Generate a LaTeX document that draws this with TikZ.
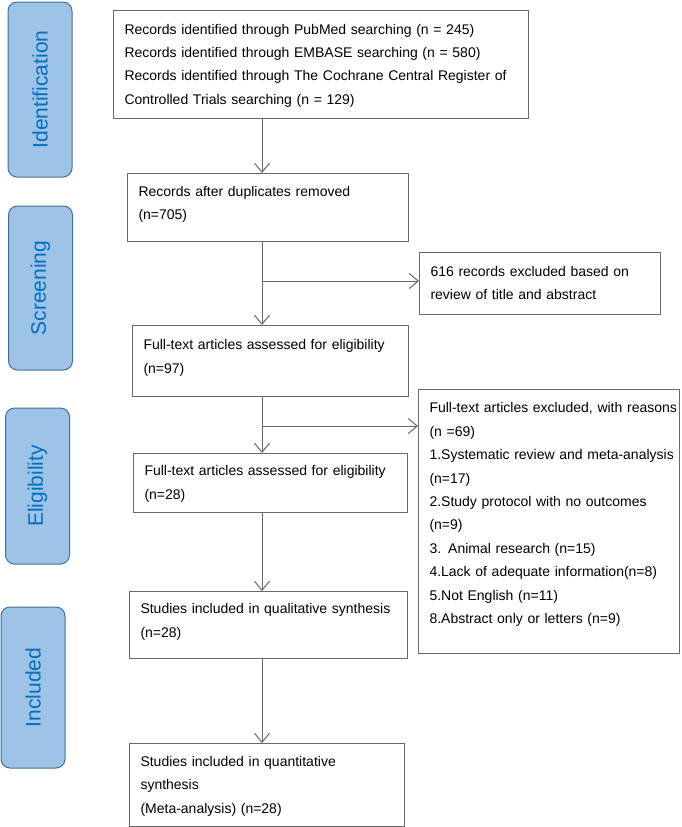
\documentclass[tikz,border=0pt]{standalone}
\usepackage{fontspec}
\setmainfont{Liberation Sans}
\usetikzlibrary{arrows.meta}
\definecolor{phasefill}{RGB}{157,195,230}
\definecolor{phaseline}{RGB}{65,113,156}
\definecolor{phasetext}{RGB}{0,112,192}
\definecolor{boxline}{RGB}{105,105,105}
\newcommand{\boxlines}[1]{\begin{tabular}{@{}l@{}}#1\end{tabular}}
\begin{document}
\begin{tikzpicture}[x=1pt, y=-1pt,
  txt/.style={font=\fontsize{14}{23.4}\selectfont},
  box/.style={txt, draw=boxline, line width=1pt, anchor=north west, align=left,
    inner xsep=11pt, inner ysep=0pt},
  phase/.style={draw=phaseline, fill=phasefill, line width=1pt, rounded corners=9pt,
    rotate=90, minimum height=64pt, text=phasetext, font=\fontsize{21}{25}\selectfont},
  arr/.style={draw=boxline, line width=1pt, -{Straight Barb[length=9pt,width=15pt]}}]

\useasboundingbox (0,0) rectangle (682,827);

\foreach \ph/\cx/\cy/\len in {Identification/40/89.5/175, Screening/40.5/288/164,
  Eligibility/37.5/486/156, Included/33/687.5/161}{
\node[phase, minimum width=\len pt] (\ph) at (\cx,\cy) {\ph};
}

\node[box, text width=393pt, minimum height=108pt] (b1) at (113,10)
  {\boxlines{Records identified through PubMed searching (n = 245)\\
   Records identified through EMBASE searching (n = 580)\\
   Records identified through The Cochrane Central Register of\\
   Controlled Trials searching (n = 129)}};
\node[box, text width=259pt, minimum height=68pt] (b2) at (127,173)
  {\boxlines{Records after duplicates removed\\(n=705)\\[8pt]}};
\node[box, text width=219pt, minimum height=62pt] (ex1) at (419,252)
  {\boxlines{616 records excluded based on\\review of title and abstract}};
\node[box, text width=254pt, minimum height=71pt] (b3) at (132,325)
  {\boxlines{Full-text articles assessed for eligibility\\(n=97)\\[8pt]}};
\node[box, text width=239pt, minimum height=264pt] (ex2) at (418,389)
  {\boxlines{Full-text articles excluded, with reasons\\(n =69)\\
   1.Systematic review and meta-analysis\\(n=17)\\
   2.Study protocol with no outcomes\\(n=9)\\
   3. Animal research (n=15)\\
   4.Lack of adequate information(n=8)\\
   5.Not English (n=11)\\
   8.Abstract only or letters (n=9)\\[16pt]}};
\node[box, text width=252pt, minimum height=59pt] (b4) at (133,453)
  {\boxlines{Full-text articles assessed for eligibility\\(n=28)}};
\node[box, text width=256pt, minimum height=67pt] (b5) at (129,591)
  {\boxlines{Studies included in qualitative synthesis\\(n=28)\\[8pt]}};
\node[box, text width=253pt, minimum height=83pt] (b6) at (129,743)
  {\boxlines{Studies included in quantitative\\synthesis\\(Meta-analysis) (n=28)}};

\coordinate (spine) at (262,0);
\coordinate (j1) at (262,281);
\coordinate (j2) at (262,426);

\draw[arr] (b1.south -| spine) -- (b2.north -| spine);
\draw[arr] (b2.south -| spine) -- (b3.north -| spine);
\draw[arr] (b3.south -| spine) -- (b4.north -| spine);
\draw[arr] (b4.south -| spine) -- (b5.north -| spine);
\draw[arr] (b5.south -| spine) -- (b6.north -| spine);
\draw[arr] (j1) -- (j1 -| ex1.west);
\draw[arr] (j2) -- (j2 -| ex2.west);
\end{tikzpicture}
\end{document}
